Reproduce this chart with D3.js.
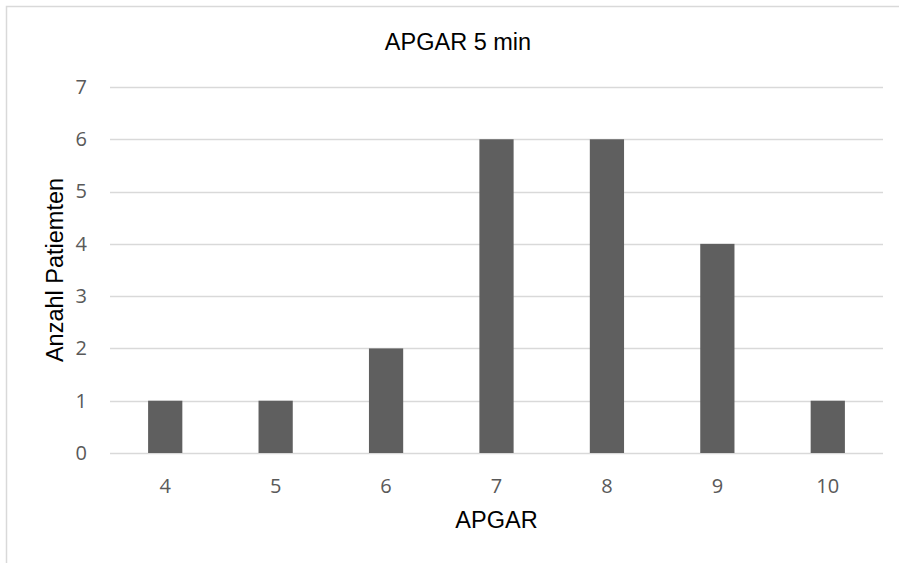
<!DOCTYPE html>
<html>
<head>
<meta charset="utf-8">
<script src="https://cdn.jsdelivr.net/npm/d3@7"></script>
<style>
  html, body { margin: 0; padding: 0; background: #fff; }
  svg { display: block; }
</style>
</head>
<body>
<svg id="chart" width="899" height="563"></svg>
<script>
// APGAR score after 5 minutes: number of patients per score
const scores = ["4", "5", "6", "7", "8", "9", "10"];
const patients = [1, 1, 2, 6, 6, 4, 1];
const yTicks = [0, 1, 2, 3, 4, 5, 6, 7];

const titleText = "APGAR 5 min";
const xTitle = "APGAR";
const yTitle = "Anzahl Patiemten";

const svg = d3.select("#chart");
const W = 899, H = 563;
const plot = { left: 110, right: 883, top: 87, bottom: 453 };

// chart frame (extends past the right and bottom edges)
svg.append("rect")
  .attr("x", 6.5).attr("y", 6.5)
  .attr("width", W + 20).attr("height", H + 20)
  .attr("fill", "#fff")
  .attr("stroke", "#d9d9d9")
  .attr("stroke-width", 1.5);

const x = d3.scaleBand()
  .domain(scores)
  .range([plot.left, plot.right])
  .paddingInner(0.69)
  .paddingOuter(0.345);

const y = d3.scaleLinear()
  .domain([0, 7])
  .range([plot.bottom, plot.top]);

// horizontal gridlines
svg.append("g")
  .selectAll("line")
  .data(yTicks)
  .join("line")
  .attr("x1", plot.left).attr("x2", plot.right)
  .attr("y1", d => Math.round(y(d)) + 0.5)
  .attr("y2", d => Math.round(y(d)) + 0.5)
  .attr("stroke", "#d9d9d9")
  .attr("stroke-width", 1.3);

// bars
svg.append("g")
  .selectAll("rect")
  .data(scores.map((s, i) => ({ s, v: patients[i] })))
  .join("rect")
  .attr("x", d => x(d.s))
  .attr("width", x.bandwidth())
  .attr("y", d => y(d.v))
  .attr("height", d => y(0) - y(d.v))
  .attr("fill", "#5f5f5f");

const tickFont = "20px";

// y axis labels
const yAxis = d3.axisLeft(y).tickValues(yTicks).tickSize(0).tickPadding(23)
  .tickFormat(d3.format("d"));
const gy = svg.append("g")
  .attr("transform", `translate(${plot.left},0)`)
  .call(yAxis);
gy.select(".domain").remove();
gy.selectAll("text")
  .attr("fill", "#595959")
  .style("font-family", "'Open Sans', sans-serif")
  .style("font-size", tickFont);

// x axis labels
const xAxis = d3.axisBottom(x).tickSize(0).tickPadding(26);
const gx = svg.append("g")
  .attr("transform", `translate(0,${plot.bottom})`)
  .call(xAxis);
gx.select(".domain").remove();
gx.selectAll("text")
  .attr("fill", "#595959")
  .style("font-family", "'Open Sans', sans-serif")
  .style("font-size", tickFont);

// titles
svg.append("text")
  .attr("x", 458).attr("y", 50)
  .attr("text-anchor", "middle")
  .style("font-family", "'Liberation Sans', Arial, sans-serif")
  .style("font-size", "23.5px")
  .attr("fill", "#000")
  .text(titleText);

svg.append("text")
  .attr("x", (plot.left + plot.right) / 2).attr("y", 528)
  .attr("text-anchor", "middle")
  .style("font-family", "'Liberation Sans', Arial, sans-serif")
  .style("font-size", "23.5px")
  .attr("fill", "#000")
  .text(xTitle);

svg.append("text")
  .attr("transform", "translate(63,270) rotate(-90)")
  .attr("text-anchor", "middle")
  .style("font-family", "'Liberation Sans', Arial, sans-serif")
  .style("font-size", "23.5px")
  .attr("fill", "#000")
  .text(yTitle);
</script>
</body>
</html>
